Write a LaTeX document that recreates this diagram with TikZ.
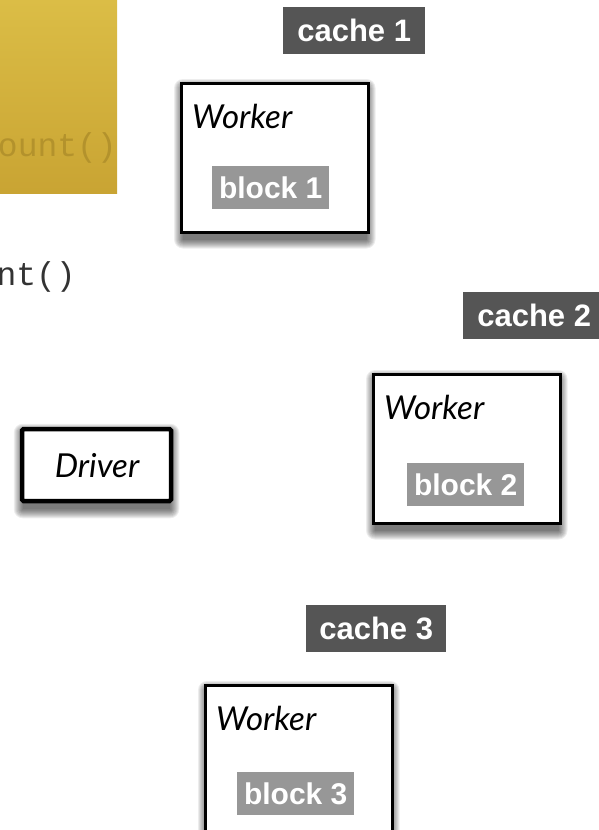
\documentclass[tikz,border=0pt]{standalone}
\usepackage{fontspec}
\setmainfont{Lato}
\newfontfamily\labelfont{Liberation Sans}
\newfontfamily\codefont{Liberation Mono}
\usetikzlibrary{backgrounds}
\definecolor{goldtop}{HTML}{DBBD46}
\definecolor{goldbot}{HTML}{C9A433}
\definecolor{goldtext}{HTML}{B3922C}
\definecolor{cachegray}{HTML}{555555}
\definecolor{blockgray}{HTML}{979797}
\definecolor{codegray}{HTML}{333333}
\tikzset{
  workerbox/.style={draw=black, line width=2.5pt, fill=white, anchor=north west, inner sep=0pt},
  driverbox/.style={draw=black, line width=4.5pt, fill=white, rounded corners=1.5pt, minimum width=149pt, minimum height=72pt, inner sep=0pt},
  cachelabel/.style={fill=cachegray, text=white, font=\labelfont\bfseries\fontsize{31}{33}\selectfont, anchor=north west, inner sep=0pt, minimum height=47pt},
  blocklabel/.style={fill=blockgray, text=white, font=\labelfont\bfseries\fontsize{30}{32}\selectfont, anchor=north west, inner sep=0pt, minimum width=117pt, minimum height=43pt},
  workertext/.style={font=\itshape\fontsize{33}{35}\selectfont, anchor=base west, inner sep=0pt},
  codetext/.style={font=\codefont\fontsize{33}{35}\selectfont, anchor=base east, inner sep=0pt},
}
\newcommand\softshadow[1]{%
  \foreach \k in {0,...,9}{%
    \fill[black,opacity=0.07,rounded corners=\k pt]
      ([xshift=-\k pt+3pt, yshift=-6pt+\k pt]#1.north west) rectangle
      ([xshift=\k pt-3pt, yshift=-6pt-\k pt]#1.south east);}}
\begin{document}
\begin{tikzpicture}[x=1pt,y=-1pt]
\useasboundingbox (0,0) rectangle (599,830);
\clip (0,0) rectangle (599,830);
% gold code box
\shade[top color=goldtop, bottom color=goldbot] (0,0) rectangle (117,193);
\node[codetext, text=goldtext] (code1) at (117,156) {ount()};
\node[codetext, text=codegray] (code2) at (76,285) {nt()};
% workers
\node[workerbox, minimum width=187pt, minimum height=149pt] (w1) at (180,82) {};
\node[workerbox, minimum width=187pt, minimum height=149pt] (w2) at (372,373) {};
\node[workerbox, minimum width=187pt, minimum height=160pt] (w3) at (204,684) {};
\node[driverbox] (drv) at (96.5,465) {};
\begin{scope}[on background layer]
  \softshadow{w1}
  \softshadow{w2}
  \softshadow{w3}
  \softshadow{drv}
\end{scope}
\node[font=\itshape\fontsize{33}{35}\selectfont, inner sep=0pt, anchor=base] (drvt) at (97,477) {Driver};
\node[workertext] (w1t) at (192,128) {Worker};
\node[workertext] (w2t) at (384,419) {Worker};
\node[workertext] (w3t) at (216,730) {Worker};
% blocks
\node[blocklabel] (b1) at (212,166) {block 1};
\node[blocklabel] (b2) at (407,463) {block 2};
\node[blocklabel] (b3) at (237,772) {block 3};
% caches
\node[cachelabel, minimum width=142pt] (c1) at (283,7) {cache 1};
\node[cachelabel, minimum width=142pt] (c2) at (463,292) {cache 2};
\node[cachelabel, minimum width=140pt] (c3) at (306,605) {cache 3};
\end{tikzpicture}
\end{document}
